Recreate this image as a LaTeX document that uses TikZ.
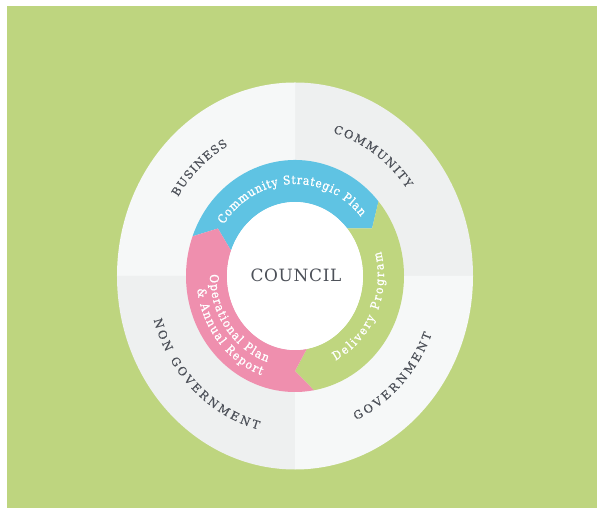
\documentclass[tikz,border=0pt]{standalone}
\usepackage{fontspec}
\setmainfont{DejaVu Serif}
\newfontfamily\condfont{DejaVu Serif Condensed}
\usepackage{tikz}
\usetikzlibrary{decorations.text}

\definecolor{bggreen}{HTML}{BED57F}
\definecolor{cspblue}{HTML}{5FC3E3}
\definecolor{dpgreen}{HTML}{BFD67F}
\definecolor{oppink}{HTML}{EF8FAE}
\definecolor{quadlight}{HTML}{F6F8F8}
\definecolor{quaddark}{HTML}{EEF0F0}
\definecolor{labelgray}{HTML}{4D5159}

\newcommand\ringtxt{\condfont\fontsize{12}{14}\selectfont\addfontfeature{FakeBold=1.2}}
\newcommand\sectortxt{\fontsize{11.5}{13}\selectfont\addfontfeature{FakeBold=0.4}}

\begin{document}
\begin{tikzpicture}[x=1bp,y=1bp,
		ringtext/.style={overlay,decorate,decoration={text along path,text align={fit to path},
			text color=white,text={|\ringtxt|#1}}},
		sectortext/.style={overlay,decorate,decoration={text along path,text align={fit to path},
			text color=labelgray,text={|\sectortxt|#1}}}]
		
		% frame and background
		\useasboundingbox (-295,-232) rectangle (302,276);
		\fill[white] (-295,-232) rectangle (302,276);
		\fill[bggreen] (-288,-233) rectangle (303,270);
		\coordinate (c) at (0,0);
		
		% outer quadrants
		\foreach \a/\col in {0/quaddark,90/quadlight,180/quaddark,270/quadlight}
		\fill[\col] (c) -- (\a:178bp and 193.5bp)
			arc[start angle=\a, delta angle=90, x radius=178bp, y radius=193.5bp] -- cycle;
		
		% ring arrows (clockwise)
		\foreach \s/\col in {160/cspblue,40/dpgreen,-80/oppink}
		\fill[\col] (\s:109bp and 116bp)
			arc[start angle=\s, end angle=\s-120, x radius=109bp, y radius=116bp]
			-- (\s-130:89bp and 95bp) -- (\s-120:68bp and 74bp)
			arc[start angle=\s-120, end angle=\s, x radius=68bp, y radius=74bp]
			-- (\s-10:89bp and 95bp) -- cycle;
		
		% centre
		\fill[white] (c) ellipse[x radius=68bp, y radius=74bp];
		\node[text=labelgray] (council) at (1,1)
			{\fontsize{17}{19}\selectfont\addfontfeature{LetterSpace=4}COUNCIL};
		
		% ring labels
		\path[ringtext={Community Strategic Plan}] (146:86bp and 92bp)
			arc[start angle=146, end angle=40, x radius=86bp, y radius=92bp];
		\path[ringtext={Delivery Program}] (-63:89bp and 95bp)
			arc[start angle=-63, end angle=15, x radius=89bp, y radius=95bp];
		\path[ringtext={Operational Plan}] (179:85bp and 91bp)
			arc[start angle=179, end angle=251, x radius=85bp, y radius=91bp];
		\path[ringtext={{\&} Annual Report}] (187:98.5bp and 105.5bp)
			arc[start angle=187, end angle=250, x radius=98.5bp, y radius=105.5bp];
		
		% sector labels, top ones clockwise
		\path[sectortext={BUSINESS}] (148:138bp and 149bp)
			arc[start angle=148, end angle=119, x radius=138bp, y radius=149bp];
		\path[sectortext={COMMUNITY}] (74:138bp and 149bp)
			arc[start angle=74, end angle=36, x radius=138bp, y radius=149bp];
		% bottom ones anticlockwise
		\path[sectortext={NON GOVERNMENT}] (196:147bp and 158.5bp)
			arc[start angle=196, end angle=255.5, x radius=147bp, y radius=158.5bp];
		\path[sectortext={GOVERNMENT}] (-65.5:147bp and 158.5bp)
			arc[start angle=-65.5, end angle=-21.5, x radius=147bp, y radius=158.5bp];
		
	\end{tikzpicture}
\end{document}
